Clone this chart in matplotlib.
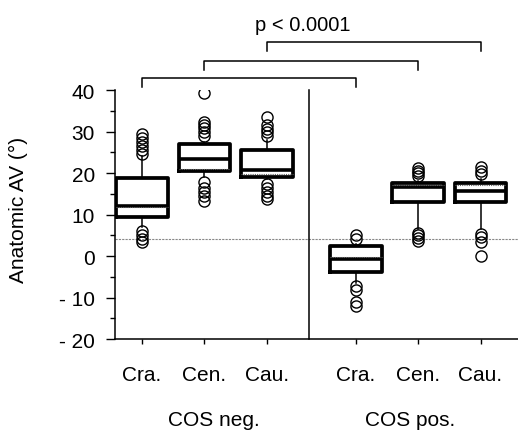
import matplotlib
matplotlib.use("Agg")
import matplotlib.pyplot as plt
import numpy as np

plt.rcParams['font.family'] = ['Liberation Sans', 'DejaVu Sans']

# box statistics
tick_labels = ['Cra.', 'Cen.', 'Cau.', 'Cra.', 'Cen.', 'Cau.']
positions = [1, 2, 3, 4.42, 5.42, 6.42]
q1 = [9.3, 20.6, 19.0, -3.9, 12.9, 12.9]
med = [12.1, 23.3, 20.8, -0.7, 16.6, 15.7]
q3 = [18.7, 27.0, 25.5, 2.5, 17.7, 17.7]
means = [11.8, 21.0, 19.8, -0.2, 17.2, 17.0]
whislo = [7.0, 19.0, 18.5, -6.5, 6.5, 6.5]
whishi = [24.0, 27.5, 28.0, 3.0, 18.0, 18.5]
fliers = [
    [24.6, 25.5, 26.5, 27.5, 28.5, 29.4, 3.4, 4.2, 5.0, 6.0],
    [39.3, 28.9, 29.8, 30.8, 31.6, 32.3, 17.8, 16.5, 15.5, 14.5, 13.3],
    [29.0, 29.8, 30.5, 31.5, 33.4, 17.3, 16.5, 15.5, 14.5, 13.8],
    [4.1, 5.0, -7.3, -8.2, -11.0, -12.0],
    [19.3, 20.0, 20.6, 21.2, 3.6, 4.4, 5.0, 5.5],
    [19.8, 20.6, 21.4, 5.3, 4.6, 3.4, 0.0],
]
group_labels = ['COS neg.', 'COS pos.']
group_x = [2.15, 5.3]
ref_value = 4
# comparison brackets (from, to, height)
brackets = [(1, 4.42, 42.9), (2, 5.42, 47.0), (3, 6.42, 51.6)]
p_text = 'p < 0.0001'

stats = []
for i in range(len(positions)):
    stats.append(dict(q1=q1[i], med=med[i], q3=q3[i], mean=means[i],
                      whislo=whislo[i], whishi=whishi[i], fliers=fliers[i]))

fig = plt.figure(figsize=(5.18, 4.39), dpi=100)
ax = fig.add_axes([0.222, 0.2255, 0.778, 0.5672])

# reference line
ax.axhline(ref_value, color='#888888', linestyle=(0, (2, 1)), lw=0.8, zorder=1)

ax.bxp(stats, positions=positions, widths=0.83, showmeans=True, meanline=True,
       showcaps=False, patch_artist=False,
       boxprops=dict(color='black', lw=2.7),
       medianprops=dict(color='black', lw=2.6),
       meanprops=dict(color='#666666', linestyle=(0, (1, 1)), lw=0.8),
       whiskerprops=dict(color='black', lw=1.1),
       flierprops=dict(marker='o', markersize=8, markerfacecolor='none',
                       markeredgecolor='black', markeredgewidth=1.0))

# divider between groups
ax.plot([3.67, 3.67], [-20, 40], color='black', lw=1.1, clip_on=False)

ax.set_xlim(0.568, 7.02)
ax.set_ylim(-20, 40)
ax.set_xticks(positions)
ax.set_xticklabels(tick_labels, fontsize=15)
ax.set_yticks([-20, -10, 0, 10, 20, 30, 40])
ax.set_yticklabels(['- 20', '- 10', '0', '10', '20', '30', '40'], fontsize=15)
ax.set_yticks(np.arange(-15, 40, 10), minor=True)
ax.tick_params(axis='y', which='major', length=6.5, width=1, pad=8)
ax.tick_params(axis='y', which='minor', length=3.6, width=1)
ax.tick_params(axis='x', length=3.6, width=1, pad=15)
ax.spines['top'].set_visible(False)
ax.spines['right'].set_visible(False)
ax.spines['left'].set_linewidth(1.1)
ax.spines['bottom'].set_linewidth(1.1)
ax.set_ylabel('Anatomic AV (°)', fontsize=15)
ax.yaxis.set_label_coords(-0.215, 0.522)

for lab, gx in zip(group_labels, group_x):
    ax.text(gx, -39.5, lab, ha='center', va='center', fontsize=15)

for x0, x1, h in brackets:
    ax.plot([x0, x0, x1, x1], [h - 2.1, h, h, h - 2.1], color='black',
            lw=1.1, clip_on=False)
ax.text(3.58, 55.9, p_text, ha='center', va='center', fontsize=14.5)

fig.savefig('out.png', dpi=100)
